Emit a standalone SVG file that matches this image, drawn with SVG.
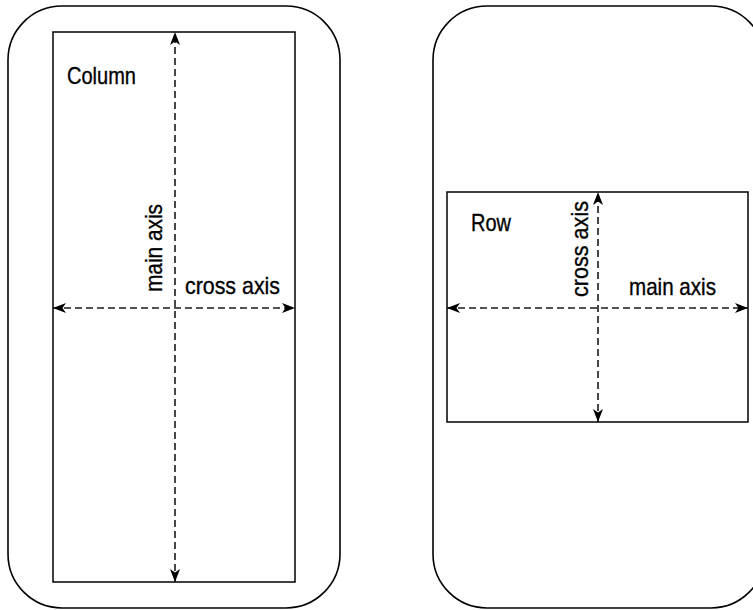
<svg xmlns="http://www.w3.org/2000/svg" width="753" height="610" viewBox="0 0 753 610">
<style>
.frame{fill:#fff;stroke:#000;stroke-width:1.6}
.box{fill:#fff;stroke:#000;stroke-width:1.5}
.axis{fill:none;stroke:#1a1a1a;stroke-width:1.6;stroke-dasharray:7 4}
.lbl{font-family:"Liberation Sans",Arial,sans-serif;font-size:24px;fill:#000;stroke:#000;stroke-width:0.35}
</style>
<defs>
<marker id="ah" viewBox="0 0 13 10" refX="13" refY="5" markerWidth="13" markerHeight="10" markerUnits="userSpaceOnUse" orient="auto-start-reverse">
<path d="M0,0 L13,5 L0,10 L3.5,5 Z" fill="#000"/>
</marker>
</defs>
<rect width="753" height="610" fill="#fff"/>
<g id="column-phone">
<rect class="frame" x="8" y="6" width="332" height="602" rx="54" ry="54"/>
<rect class="box" x="53" y="32" width="242" height="550"/>
<text class="lbl" x="67" y="84" textLength="69" lengthAdjust="spacingAndGlyphs">Column</text>
</g>
<g id="row-phone">
<rect class="frame" x="433" y="6" width="332" height="602" rx="54" ry="54"/>
<rect class="box" x="447" y="192" width="301" height="230"/>
<text class="lbl" x="471" y="231" textLength="40" lengthAdjust="spacingAndGlyphs">Row</text>
</g>
<g id="connectors">
<line class="axis" x1="175" y1="582" x2="175" y2="32" marker-start="url(#ah)" marker-end="url(#ah)"/>
<line class="axis" x1="53" y1="308" x2="295" y2="308" marker-start="url(#ah)" marker-end="url(#ah)"/>
<line class="axis" x1="598" y1="422" x2="598" y2="192" marker-start="url(#ah)" marker-end="url(#ah)"/>
<line class="axis" x1="447" y1="308" x2="748" y2="308" marker-start="url(#ah)" marker-end="url(#ah)"/>
<text class="lbl" transform="translate(162,292) rotate(-90)" textLength="88" lengthAdjust="spacingAndGlyphs">main axis</text>
<text class="lbl" x="185" y="294" textLength="95" lengthAdjust="spacingAndGlyphs">cross axis</text>
<text class="lbl" transform="translate(588,297) rotate(-90)" textLength="96" lengthAdjust="spacingAndGlyphs">cross axis</text>
<text class="lbl" x="629" y="295" textLength="87" lengthAdjust="spacingAndGlyphs">main axis</text>
</g>
</svg>
